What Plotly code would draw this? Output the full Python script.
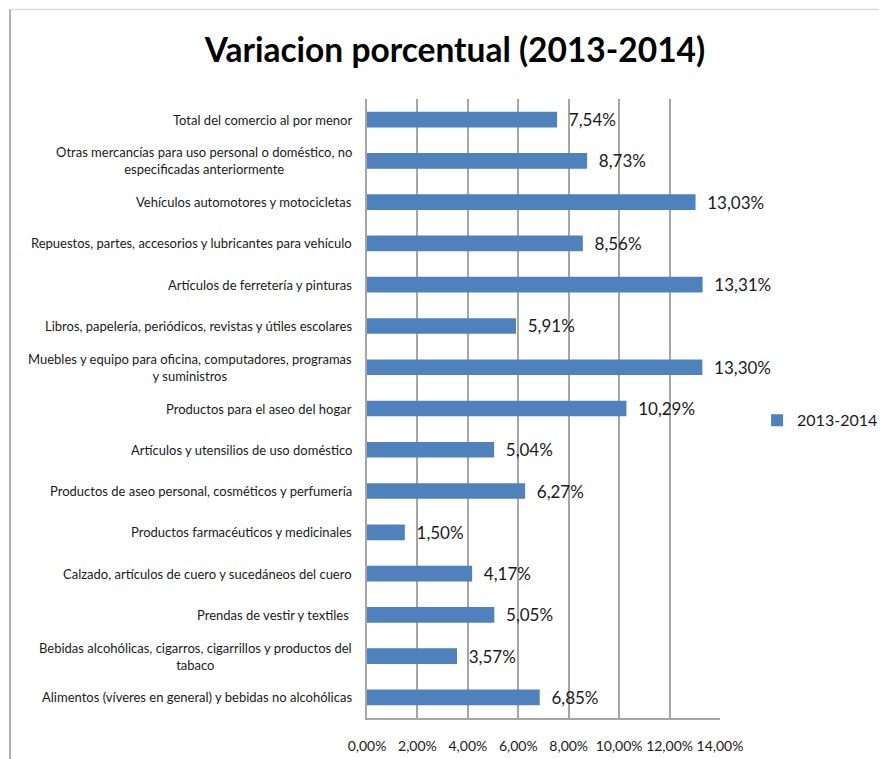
import plotly.graph_objects as go

# categories, top to bottom as in the reference
categories = [
    "Total del comercio al por menor",
    "Otras mercancías para uso personal o doméstico, no<br>especificadas anteriormente",
    "Vehículos automotores y motocicletas",
    "Repuestos, partes, accesorios y lubricantes para vehículo",
    "Artículos de ferretería y pinturas",
    "Libros, papelería, periódicos, revistas y útiles escolares",
    "Muebles y equipo para oficina, computadores, programas<br>y suministros",
    "Productos para el aseo del hogar",
    "Artículos y utensilios de uso doméstico",
    "Productos de aseo personal, cosméticos y perfumería",
    "Productos farmacéuticos y medicinales",
    "Calzado, artículos de cuero y sucedáneos del cuero",
    "Prendas de vestir y textiles ",
    "Bebidas alcohólicas, cigarros, cigarrillos y productos del<br>tabaco",
    "Alimentos (víveres en general) y bebidas no alcohólicas",
]
values = [7.54, 8.73, 13.03, 8.56, 13.31, 5.91, 13.30, 10.29,
          5.04, 6.27, 1.50, 4.17, 5.05, 3.57, 6.85]
series_name = "2013-2014"
x_ticks = [0, 2, 4, 6, 8, 10, 12, 14]
x_ticktext = [f"{v:.2f}%".replace(".", ",") for v in x_ticks]

BLUE = "#4f81bd"
INK = "#1a1a1a"
GRID = "#a6a6a6"
FONT = "Lato"

# page body has an 8px margin, so the figure is 8px smaller than the window
W, H = 879, 751
L, R, T, B = 359, 167, 91, 41
pw, ph = W - L - R, H - T - B

fig = go.Figure()
fig.add_trace(go.Bar(
    y=categories, x=values, orientation="h", name=series_name,
    marker=dict(color=BLUE, line=dict(width=0)), width=0.38,
    texttemplate="\u00a0\u00a0%{x:.2f}%", textposition="outside",
    constraintext="none",
    textfont=dict(family=FONT, size=17, color=INK), cliponaxis=False,
))

# category labels as annotations so two-line labels are centred like the original
for c in categories:
    fig.add_annotation(x=0, y=c, xref="paper", yref="y", text=c, showarrow=False,
                       xanchor="right", xshift=-13, align="center",
                       font=dict(family=FONT, size=13, color=INK))

# outer frame: top and left edges
fx0 = (2 - L) / pw
fy1 = (H - B - 1.5) / ph
fig.add_shape(type="line", xref="paper", yref="paper", x0=fx0, x1=(W - L) / pw,
              y0=fy1, y1=fy1, line=dict(color="#dcdcdc", width=1.5), layer="below")
fig.add_shape(type="line", xref="paper", yref="paper", x0=fx0, x1=fx0,
              y0=-B / ph, y1=fy1, line=dict(color="#b0b0b0", width=2), layer="below")

fig.update_layout(
    width=W, height=H, separators=",.",
    margin=dict(l=L, r=R, t=T, b=B, autoexpand=False),
    paper_bgcolor="white", plot_bgcolor="white",
    title=dict(text="<b>Variacion porcentual (2013-2014)</b>", x=0.5085, xref="container",
               xanchor="center", y=0.944, yref="container", yanchor="middle",
               font=dict(family=FONT, size=33.5, color="black")),
    xaxis=dict(range=[0, 14], tickvals=x_ticks, ticktext=x_ticktext,
               showgrid=True, gridcolor=GRID, gridwidth=1.5, zeroline=False,
               showline=True, linecolor=GRID, linewidth=1.5, ticks="",
               ticklabelstandoff=14, tickfont=dict(family=FONT, size=14, color=INK)),
    yaxis=dict(autorange="reversed", showticklabels=False, showgrid=False,
               showline=True, linecolor=GRID, linewidth=1.5, ticks=""),
    showlegend=True,
    legend=dict(x=1.105, y=0.481, xanchor="left", yanchor="middle",
                font=dict(family=FONT, size=16, color=INK), bgcolor="rgba(0,0,0,0)"),
    bargap=0.6,
)

fig.write_html("out.html")
